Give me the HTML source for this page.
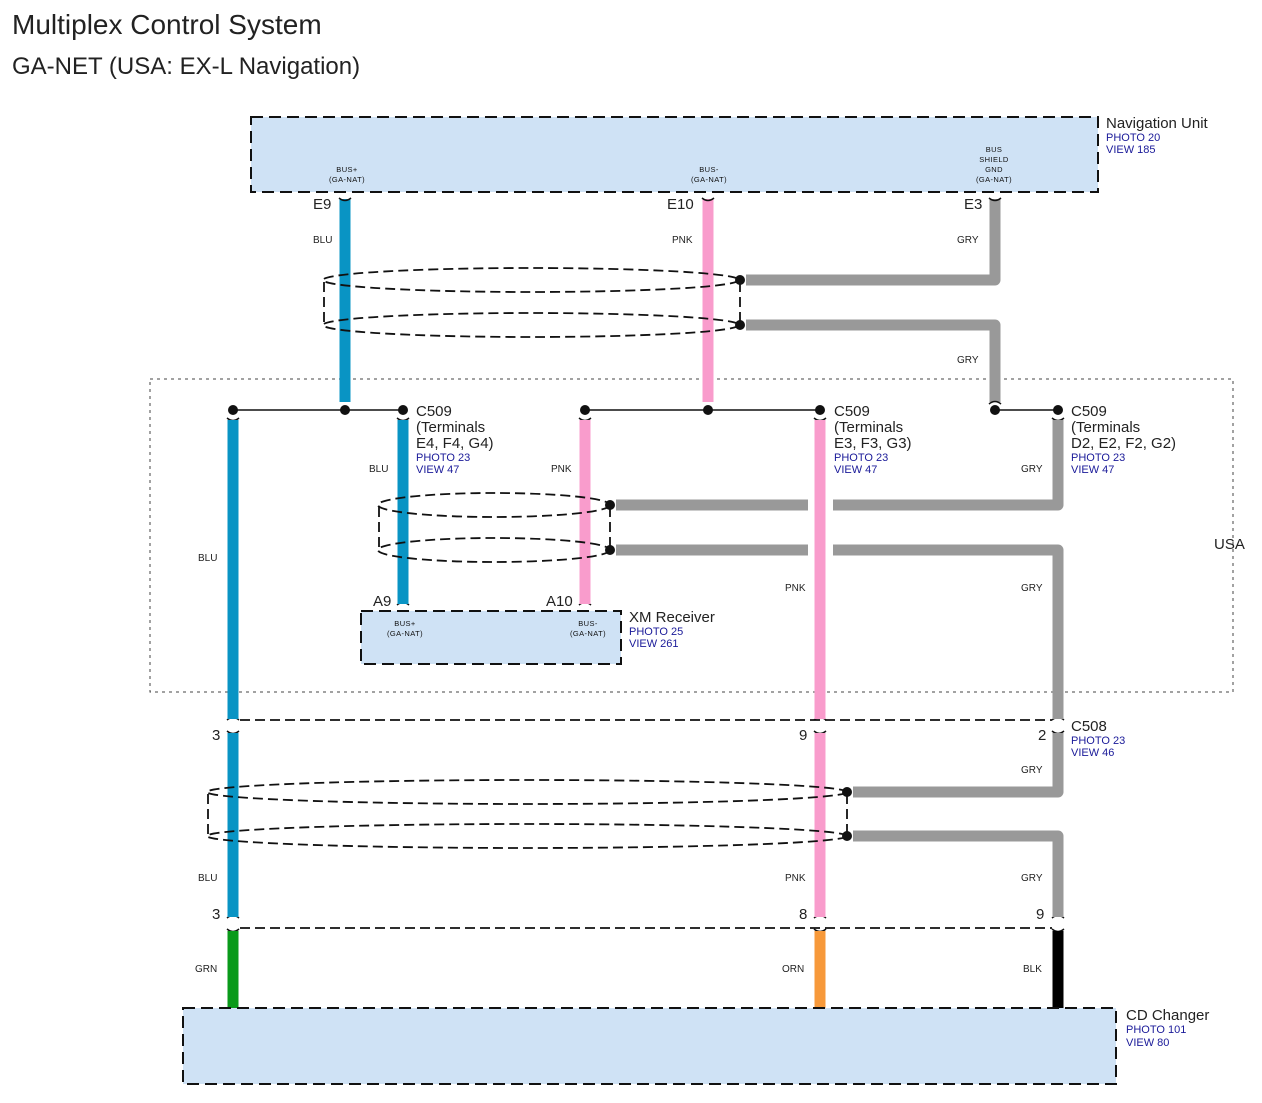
<!DOCTYPE html>
<html><head><meta charset="utf-8"><style>
html,body{margin:0;padding:0;background:#fff;}
svg{display:block;font-family:"Liberation Sans",sans-serif;}
.t{font-size:10px;fill:#222;}
.s{font-size:7.5px;fill:#111;letter-spacing:0.4px}
.b{font-size:11px;fill:#1a1a99;}
.n{font-size:15px;fill:#222;}
</style></head><body>
<svg width="1262" height="1103" viewBox="0 0 1262 1103">
<text x="12" y="34" font-size="28" fill="#222">Multiplex Control System</text>
<text x="12" y="74" font-size="24" fill="#222">GA-NET (USA: EX-L Navigation)</text>

<rect x="150" y="379" width="1083" height="313" fill="none" stroke="#444" stroke-width="1" stroke-dasharray="3,4"/>
<text x="1214" y="549" class="n" font-size="14">USA</text>

<rect x="251" y="117" width="847" height="75" fill="#cfe2f5" stroke="#111" stroke-width="2" stroke-dasharray="12,6"/>
<text x="1106" y="128" class="n">Navigation Unit</text>
<text x="1106" y="141" class="b">PHOTO 20</text>
<text x="1106" y="153" class="b">VIEW 185</text>
<text x="347" y="172" class="s" text-anchor="middle">BUS+</text>
<text x="347" y="182" class="s" text-anchor="middle">(GA-NAT)</text>
<text x="709" y="172" class="s" text-anchor="middle">BUS-</text>
<text x="709" y="182" class="s" text-anchor="middle">(GA-NAT)</text>
<text x="994" y="152" class="s" text-anchor="middle">BUS</text>
<text x="994" y="162" class="s" text-anchor="middle">SHIELD</text>
<text x="994" y="172" class="s" text-anchor="middle">GND</text>
<text x="994" y="182" class="s" text-anchor="middle">(GA-NAT)</text>

<g fill="none" stroke-width="11" stroke-linejoin="round">
<line x1="345" y1="199" x2="345" y2="402" stroke="#0994c4"/>
<line x1="708" y1="199" x2="708" y2="402" stroke="#f99ccc"/>
<path d="M995 199 V280 H746" stroke="#999"/>
<path d="M746 325 H995 V402" stroke="#999"/>
</g>
<text x="313" y="243" class="t">BLU</text>
<text x="672" y="243" class="t">PNK</text>
<text x="957" y="243" class="t">GRY</text>
<text x="957" y="363" class="t">GRY</text>
<text x="313" y="209" class="n">E9</text>
<text x="667" y="209" class="n">E10</text>
<text x="964" y="209" class="n">E3</text>

<g fill="none" stroke="#111" stroke-width="1.5">
<path d="M339 198 q6 5 12 0"/><path d="M702 198 q6 5 12 0"/><path d="M989 198 q6 5 12 0"/>
<path d="M989 404 q6 -5 12 0"/>
<path d="M397 418 q6 5 12 0"/><path d="M579 418 q6 5 12 0"/><path d="M814 418 q6 5 12 0"/><path d="M1052 418 q6 5 12 0"/><path d="M227 418 q6 5 12 0"/>
<path d="M397 605 q6 -5 12 0"/><path d="M579 605 q6 -5 12 0"/>
<path d="M227 720 q6 -5 12 0"/><path d="M227 731 q6 5 12 0"/>
<path d="M814 720 q6 -5 12 0"/><path d="M814 731 q6 5 12 0"/>
<path d="M1052 720 q6 -5 12 0"/><path d="M1052 731 q6 5 12 0"/>
<path d="M227 918 q6 -5 12 0"/><path d="M227 929 q6 5 12 0"/>
<path d="M814 918 q6 -5 12 0"/><path d="M814 929 q6 5 12 0"/>
<path d="M1052 918 q6 -5 12 0"/><path d="M1052 929 q6 5 12 0"/>
</g>

<g stroke="#111" stroke-width="1.5">
<line x1="233" y1="410" x2="403" y2="410"/>
<line x1="585" y1="410" x2="820" y2="410"/>
<line x1="995" y1="410" x2="1058" y2="410"/>
</g>
<g fill="#111">
<circle cx="233" cy="410" r="5"/><circle cx="345" cy="410" r="5"/><circle cx="403" cy="410" r="5"/>
<circle cx="585" cy="410" r="5"/><circle cx="708" cy="410" r="5"/><circle cx="820" cy="410" r="5"/>
<circle cx="995" cy="410" r="5"/><circle cx="1058" cy="410" r="5"/>
</g>

<g fill="none" stroke-width="11" stroke-linejoin="round">
<line x1="233" y1="420" x2="233" y2="719" stroke="#0994c4"/>
<line x1="233" y1="733" x2="233" y2="917" stroke="#0994c4"/>
<line x1="233" y1="931" x2="233" y2="1008" stroke="#0a9a1a"/>
<line x1="403" y1="420" x2="403" y2="604" stroke="#0994c4"/>
<line x1="585" y1="420" x2="585" y2="604" stroke="#f99ccc"/>
<line x1="820" y1="420" x2="820" y2="719" stroke="#f99ccc"/>
<line x1="820" y1="733" x2="820" y2="917" stroke="#f99ccc"/>
<line x1="820" y1="931" x2="820" y2="1008" stroke="#f7993a"/>
<path d="M1058 420 V505 H833" stroke="#999"/>
<line x1="616" y1="505" x2="808" y2="505" stroke="#999"/>
<line x1="616" y1="550" x2="808" y2="550" stroke="#999"/>
<path d="M833 550 H1058 V719" stroke="#999"/>
<path d="M1058 733 V792 H853" stroke="#999"/>
<path d="M853 836 H1058 V917" stroke="#999"/>
<line x1="1058" y1="931" x2="1058" y2="1008" stroke="#000"/>
</g>

<g fill="none" stroke="#111" stroke-width="1.8" stroke-dasharray="10,5">
<ellipse cx="531" cy="280" rx="208" ry="12"/>
<ellipse cx="531" cy="325" rx="208" ry="12"/>
<line x1="324" y1="282" x2="324" y2="323"/>
<line x1="740" y1="282" x2="740" y2="323"/>
<ellipse cx="494" cy="505" rx="116" ry="12"/>
<ellipse cx="494" cy="550" rx="116" ry="12"/>
<line x1="379" y1="507" x2="379" y2="548"/>
<line x1="610" y1="507" x2="610" y2="548"/>
<ellipse cx="527" cy="792" rx="320" ry="12"/>
<ellipse cx="527" cy="836" rx="320" ry="12"/>
<line x1="208" y1="794" x2="208" y2="834"/>
<line x1="847" y1="794" x2="847" y2="834"/>
<line x1="240" y1="720" x2="1052" y2="720"/>
<line x1="240" y1="928" x2="1052" y2="928"/>
</g>
<g fill="#111">
<circle cx="740" cy="280" r="5"/><circle cx="740" cy="325" r="5"/>
<circle cx="610" cy="505" r="5"/><circle cx="610" cy="550" r="5"/>
<circle cx="847" cy="792" r="5"/><circle cx="847" cy="836" r="5"/>
</g>

<text x="416" y="416" class="n">C509</text>
<text x="416" y="432" class="n">(Terminals</text>
<text x="416" y="448" class="n">E4, F4, G4)</text>
<text x="416" y="461" class="b">PHOTO 23</text>
<text x="416" y="473" class="b">VIEW 47</text>
<text x="834" y="416" class="n">C509</text>
<text x="834" y="432" class="n">(Terminals</text>
<text x="834" y="448" class="n">E3, F3, G3)</text>
<text x="834" y="461" class="b">PHOTO 23</text>
<text x="834" y="473" class="b">VIEW 47</text>
<text x="1071" y="416" class="n">C509</text>
<text x="1071" y="432" class="n">(Terminals</text>
<text x="1071" y="448" class="n">D2, E2, F2, G2)</text>
<text x="1071" y="461" class="b">PHOTO 23</text>
<text x="1071" y="473" class="b">VIEW 47</text>

<text x="369" y="472" class="t">BLU</text>
<text x="551" y="472" class="t">PNK</text>
<text x="1021" y="472" class="t">GRY</text>
<text x="198" y="561" class="t">BLU</text>
<text x="785" y="591" class="t">PNK</text>
<text x="1021" y="591" class="t">GRY</text>
<text x="1021" y="773" class="t">GRY</text>
<text x="198" y="881" class="t">BLU</text>
<text x="785" y="881" class="t">PNK</text>
<text x="1021" y="881" class="t">GRY</text>
<text x="195" y="972" class="t">GRN</text>
<text x="782" y="972" class="t">ORN</text>
<text x="1023" y="972" class="t">BLK</text>

<text x="373" y="606" class="n">A9</text>
<text x="546" y="606" class="n">A10</text>
<rect x="361" y="611" width="260" height="53" fill="#cfe2f5" stroke="#111" stroke-width="2" stroke-dasharray="12,6"/>
<text x="405" y="626" class="s" text-anchor="middle">BUS+</text>
<text x="405" y="636" class="s" text-anchor="middle">(GA-NAT)</text>
<text x="588" y="626" class="s" text-anchor="middle">BUS-</text>
<text x="588" y="636" class="s" text-anchor="middle">(GA-NAT)</text>
<text x="629" y="622" class="n">XM Receiver</text>
<text x="629" y="635" class="b">PHOTO 25</text>
<text x="629" y="647" class="b">VIEW 261</text>

<text x="212" y="740" class="n">3</text>
<text x="799" y="740" class="n">9</text>
<text x="1038" y="740" class="n">2</text>
<text x="1071" y="731" class="n">C508</text>
<text x="1071" y="744" class="b">PHOTO 23</text>
<text x="1071" y="756" class="b">VIEW 46</text>
<text x="212" y="919" class="n">3</text>
<text x="799" y="919" class="n">8</text>
<text x="1036" y="919" class="n">9</text>

<rect x="183" y="1008" width="933" height="76" fill="#cfe2f5" stroke="#111" stroke-width="2" stroke-dasharray="12,6"/>
<text x="1126" y="1020" class="n">CD Changer</text>
<text x="1126" y="1033" class="b">PHOTO 101</text>
<text x="1126" y="1046" class="b">VIEW 80</text>
</svg>
</body></html>
